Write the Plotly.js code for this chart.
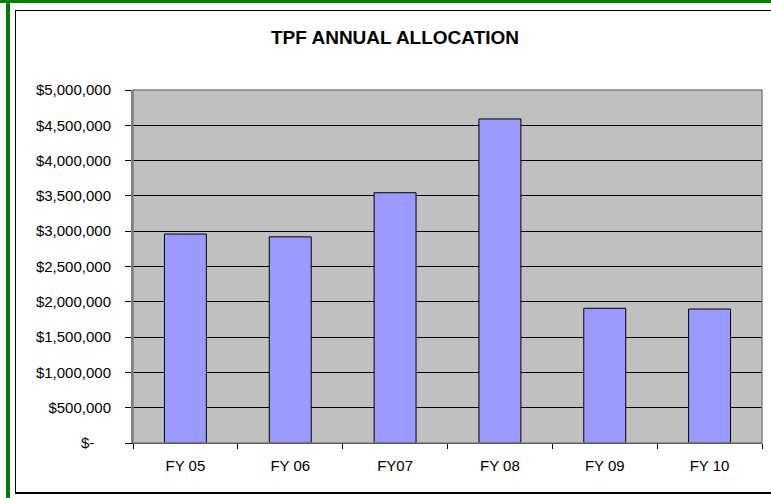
<!DOCTYPE html>
<html>
<head>
<meta charset="utf-8">
<script src="https://cdn.plot.ly/plotly-3.0.1.min.js"></script>
<style>
  html, body { margin: 0; padding: 0; background: #ffffff; }
  #wrap { position: relative; width: 771px; height: 498px; overflow: hidden; }
  #chart { position: absolute; left: 0; top: 0; width: 771px; height: 498px; }
  .deco { position: absolute; pointer-events: none; }
</style>
</head>
<body>
<div id="wrap">
  <div id="chart"></div>
  <div class="deco" style="left:0;top:0;width:771px;height:3px;background:#008000;"></div>
  <div class="deco" style="left:6px;top:0;width:4px;height:498px;background:#008000;"></div>
  <div class="deco" style="left:15px;top:10px;width:760px;height:481px;border-left:1px solid #000;border-top:1px solid #000;border-bottom:2px solid #000;"></div>
</div>
<script>
const categories = ["FY 05", "FY 06", "FY07", "FY 08", "FY 09", "FY 10"];
const allocations = [2960000, 2920000, 3545000, 4590000, 1908000, 1898000];
const yTickValues = [0, 500000, 1000000, 1500000, 2000000, 2500000, 3000000, 3500000, 4000000, 4500000, 5000000];
const yTickLabels = ["$-\u00a0\u00a0\u00a0\u00a0", "$500,000", "$1,000,000", "$1,500,000", "$2,000,000", "$2,500,000", "$3,000,000", "$3,500,000", "$4,000,000", "$4,500,000", "$5,000,000"];

const trace = {
  type: "bar",
  x: categories,
  y: allocations,
  marker: { color: "#9999FF", line: { color: "#000000", width: 1 } },
  hoverinfo: "x+y"
};

const layout = {
  width: 771,
  height: 498,
  margin: { l: 133, r: 9, t: 90, b: 55 },
  paper_bgcolor: "rgba(255,255,255,1)",
  plot_bgcolor: "#C0C0C0",
  showlegend: false,
  bargap: 0.6,
  font: { family: "Arial, 'Liberation Sans', sans-serif", color: "#000000", size: 15 },
  title: {
    text: "<b>TPF ANNUAL ALLOCATION</b>",
    font: { size: 19, family: "Arial, 'Liberation Sans', sans-serif", color: "#000000" },
    x: 395 / 771, xanchor: "center", xref: "container",
    y: 1 - 37 / 498, yanchor: "middle", yref: "container"
  },
  xaxis: {
    type: "category",
    showgrid: false,
    showline: true, linecolor: "#000000", linewidth: 1,
    ticks: "outside", tickson: "boundaries", ticklen: 5, tickcolor: "#000000", tickwidth: 1,
    ticklabelstandoff: 9,
    tickfont: { size: 15 },
    zeroline: false
  },
  yaxis: {
    range: [0, 5000000],
    tickvals: yTickValues,
    ticktext: yTickLabels,
    showgrid: true, gridcolor: "#000000", gridwidth: 1,
    showline: true, linecolor: "#808080", linewidth: 2,
    ticks: "outside", ticklen: 6, tickcolor: "#000000", tickwidth: 1,
    ticklabelstandoff: 11,
    tickfont: { size: 15 },
    zeroline: false
  },
  shapes: [
    { type: "rect", xref: "paper", yref: "paper", x0: 0, x1: 1, y0: 0, y1: 1,
      line: { color: "#808080", width: 1.5 }, fillcolor: "rgba(0,0,0,0)", layer: "above" }
  ]
};

Plotly.newPlot("chart", [trace], layout, { displayModeBar: false, staticPlot: true });
</script>
</body>
</html>
